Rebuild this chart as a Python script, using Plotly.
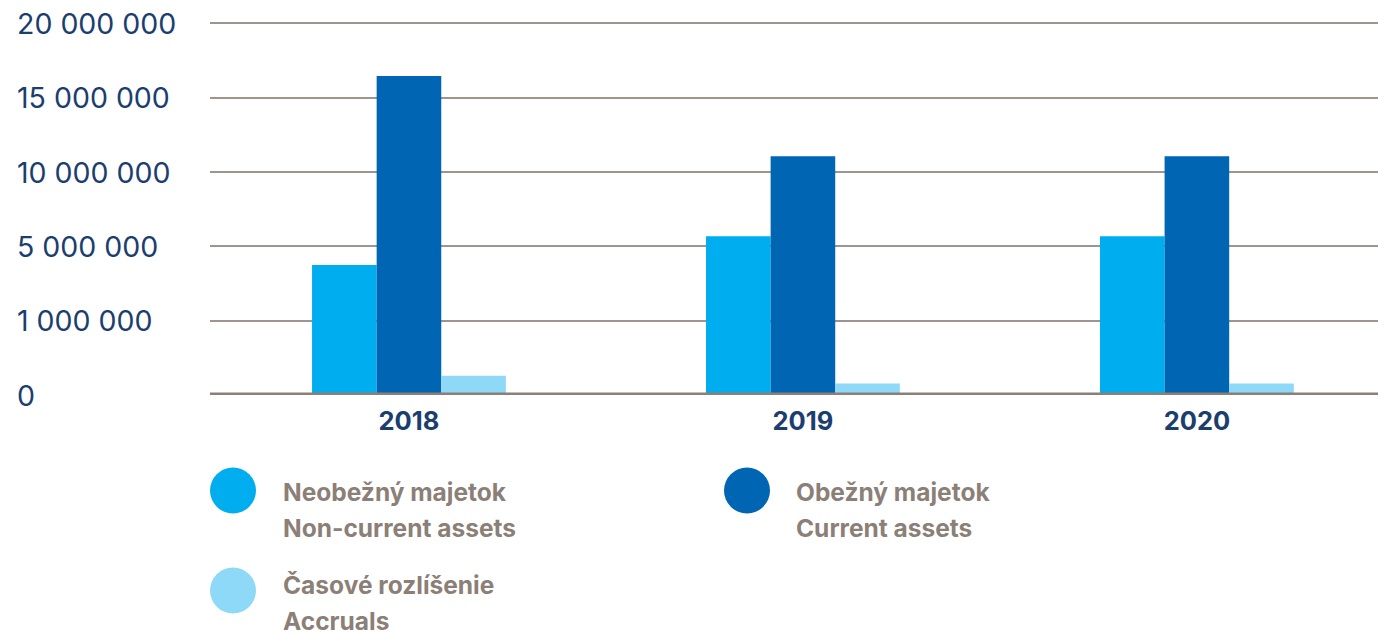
import numpy as np
import plotly.graph_objects as go

# datos
years = ["2018", "2019", "2020"]
neobezny = [4_000_000, 5_690_000, 5_690_000]      # Non-current assets
obezny = [16_470_000, 11_070_000, 11_070_000]     # Current assets
casove = [260_000, 154_000, 154_000]              # Accruals

tick_vals = [0, 1_000_000, 5_000_000, 10_000_000, 15_000_000, 20_000_000]
tick_text = ["0", "1 000 000", "5 000 000", "10 000 000", "15 000 000", "20 000 000"]

series_sk = ["Neobežný majetok", "Obežný majetok", "Časové rozlíšenie"]
series_en = ["Non-current assets", "Current assets", "Accruals"]
colors = ["#00AEEF", "#0066B3", "#8ED8F8"]

NAVY = "#1B3E6F"; GREY = "#8B7F77"; FONT = "Inter"
OFF = 8  # margen del body en la pagina

# la escala del original no es lineal: los ticks estan equiespaciados
def escala(v):
    return np.interp(v, tick_vals, np.arange(len(tick_vals)))

fig = go.Figure()
for name, vals, c in zip(series_en, [neobezny, obezny, casove], colors):
    fig.add_trace(go.Bar(x=years, y=escala(vals), name=name, marker=dict(color=c, line_width=0),
                         customdata=vals, hovertemplate="%{x}: %{customdata:,.0f}<extra></extra>"))

H_TOP, H_AXIS, X_LEFT = 23, 395.5, 210   # pixeles del area de grafico (en pantalla)
PW = 1386 - X_LEFT
RMAX = 5.06  # un poco de aire para que se dibuje la linea de 20 000 000
ppu = (H_AXIS - H_TOP) / 5
def py(p):  # desplazamiento en pixeles desde y=0 (paper)
    return H_AXIS - p

ann = []
shapes = []
# etiquetas del eje y alineadas a la izquierda
for i, t in enumerate(tick_text):
    ann.append(dict(x=0, xref="paper", xanchor="left", xshift=-(X_LEFT - 15), y=i, yref="y", yanchor="middle",
                    text=t, showarrow=False, font=dict(family=FONT, size=28.5, color=NAVY)))
# linea base gruesa
shapes.append(dict(type="line", xref="paper", yref="y", x0=0, x1=1, y0=0, y1=0, layer="above",
                   line=dict(color=GREY, width=5)))
# leyenda manual con circulos: (centro x circulo, x texto, centro y circulo, y primera linea)
pos = [(233, 281, 491, 492), (747, 794, 491, 492), (233, 281, 591, 585)]
for (cx, tx, cy, ty), sk, en, c in zip(pos, series_sk, series_en, colors):
    shapes.append(dict(type="circle", xref="paper", yref="paper", xsizemode="pixel", ysizemode="pixel",
                       xanchor=(cx - X_LEFT) / PW, yanchor=0, x0=-23, x1=23,
                       y0=py(cy) - 23, y1=py(cy) + 23, fillcolor=c, line_width=0))
    for k, txt in enumerate([sk, en]):
        ann.append(dict(x=(tx - X_LEFT) / PW, xref="paper", xanchor="left", y=0, yref="paper",
                        yanchor="middle", yshift=py(ty + 36 * k), text=txt, showarrow=False,
                        font=dict(family=FONT, size=24.5, color=GREY, weight="bold")))

fig.update_layout(
    width=1386 - OFF, height=634 - OFF,
    margin=dict(l=X_LEFT - OFF, r=0, t=H_AXIS - RMAX * ppu - OFF, b=634 - H_AXIS),
    plot_bgcolor="white", paper_bgcolor="white", showlegend=False,
    barmode="group", bargap=0.508, bargroupgap=0,
    annotations=ann, shapes=shapes,
    xaxis=dict(range=[-0.505, 2.48], showgrid=False, ticks="", showline=False, ticklabelstandoff=8,
               tickfont=dict(family=FONT, size=25.5, color=NAVY, weight="bold")),
    yaxis=dict(range=[0, RMAX], tickvals=list(range(6)), showticklabels=False, showgrid=True,
               gridcolor="#9E958E", gridwidth=2, zeroline=False, showline=False),
)
fig.write_html("out.html")
